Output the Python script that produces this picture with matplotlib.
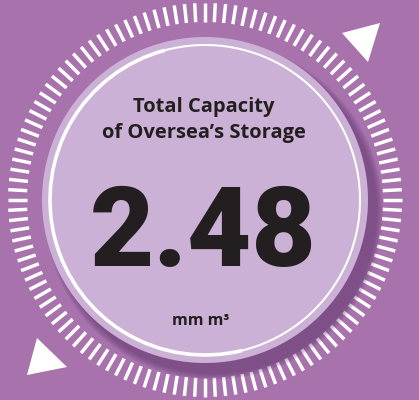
import numpy as np
import matplotlib
matplotlib.use('Agg')
import matplotlib.pyplot as plt
from matplotlib.patches import Circle, Arc, Polygon
from matplotlib.collections import LineCollection

# === DATA ===
title_lines = ["Total Capacity", "of Oversea\u2019s Storage"]
value = 2.48
unit = "mm m\u00b3"

# === SETTINGS ===
W, H = 419, 400
BG = '#a872ad'
DISC = '#ccb1d6'
DARK = '#231f20'
CX, CY = 205, 200
R_DISC = 163
R_ARC = 155
N_TICKS = 120

fig = plt.figure(figsize=(W / 100, H / 100), dpi=100)
fig.patch.set_facecolor(BG)
ax = fig.add_axes([0, 0, 1, 1])
ax.set_xlim(0, W)
ax.set_ylim(H, 0)
ax.set_aspect('equal')
ax.axis('off')

# tick ring
ang = np.linspace(0, 2 * np.pi, N_TICKS, endpoint=False)
segs = [[(CX + 178 * np.cos(a), CY + 178 * np.sin(a)),
         (CX + 197 * np.cos(a), CY + 197 * np.sin(a))] for a in ang]
ax.add_collection(LineCollection(segs, colors='white', linewidths=2.5,
                                 capstyle='butt', zorder=2))

# shadow under the disc (bottom-right), drawn over the ticks
for r in np.linspace(R_DISC + 6, R_DISC, 7):
    ax.add_patch(Circle((CX + 9, CY + 11), r, color='#5a3266', alpha=0.09, lw=0, zorder=2.5))

# disc
ax.add_patch(Circle((CX, CY), R_DISC, color=DISC, lw=0, zorder=3))

# white ring: thick on the left half, thin on the right
# (y axis is inverted, so angles run clockwise on screen)
ax.add_patch(Arc((CX, CY), 2 * R_ARC, 2 * R_ARC, theta1=76, theta2=255,
                 color='white', lw=2.6, zorder=4))
ax.add_patch(Arc((CX, CY), 2 * R_ARC, 2 * R_ARC, theta1=255, theta2=436,
                 color='white', lw=1.5, zorder=4))

# triangles
ax.add_patch(Polygon([(342, 33), (380, 23), (368, 62)], closed=True,
                     color='white', lw=0, zorder=5))
ax.add_patch(Polygon([(37, 338), (67, 367), (27, 375)], closed=True,
                     color='white', lw=0, zorder=5))

# texts
ax.text(204, 107, title_lines[0], ha='center', va='center', fontsize=14.5,
        fontweight='bold', family='Open Sans', color=DARK, zorder=6)
ax.text(204, 133, title_lines[1], ha='center', va='center', fontsize=14.5,
        fontweight='bold', family='Open Sans', color=DARK, zorder=6)
ax.text(203, 266, f"{value:.2f}", ha='center', va='baseline', fontsize=80,
        fontweight='black', family='Roboto', color=DARK, zorder=6)
ax.text(201, 321, unit, ha='center', va='center', fontsize=11.5,
        fontweight='bold', family='Open Sans', color=DARK, zorder=6)

fig.savefig('out.png', dpi=100, facecolor=BG)
